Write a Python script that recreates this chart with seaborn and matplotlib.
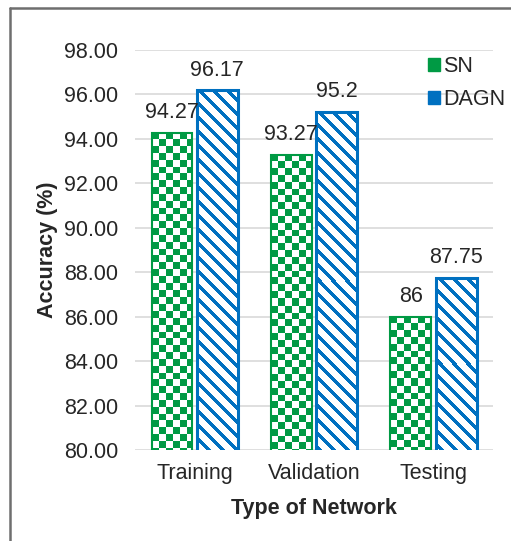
import numpy as np
import pandas as pd
import matplotlib
matplotlib.use("Agg")
import matplotlib.pyplot as plt
from matplotlib.patches import Patch
from matplotlib.lines import Line2D
import seaborn as sns

categories = ["Training", "Validation", "Testing"]
sn_values = [94.27, 93.27, 86]
dagn_values = [96.17, 95.2, 87.75]
series_names = ["SN", "DAGN"]
y_ticks = [80, 82, 84, 86, 88, 90, 92, 94, 96, 98]

GREEN = "#009A44"
BLUE = "#0070C0"
YMIN, YMAX = 80, 98
FS = 15.5

sns.set_theme(style="white")
plt.rcParams["font.family"] = ["Liberation Sans", "DejaVu Sans"]

df = pd.DataFrame({
    "Network": categories * 2,
    "Accuracy": sn_values + dagn_values,
    "Model": [series_names[0]] * 3 + [series_names[1]] * 3,
})

fig = plt.figure(figsize=(5.11, 5.41), dpi=100)
ax = fig.add_axes([0.264, 0.168, 0.701, 0.74])

sns.barplot(data=df, x="Network", y="Accuracy", hue="Model", order=categories,
            hue_order=series_names, palette=[GREEN, BLUE], width=0.76, gap=0.1,
            ax=ax, legend=False, saturation=1)

ax.set_ylim(YMIN, YMAX)
ax.set_xlim(-0.5, 2.5)
ax.set_yticks(y_ticks)
ax.set_yticklabels([f"{t:.2f}" for t in y_ticks], fontsize=FS)
ax.tick_params(axis="x", labelsize=FS, length=0, pad=9)
ax.tick_params(axis="y", length=0, pad=12)
ax.yaxis.grid(True, color="#D9D9D9", linewidth=1.2)
ax.set_axisbelow(True)
for s in ax.spines.values():
    s.set_visible(False)
ax.set_xlabel("Type of Network", fontsize=FS, fontweight="bold", labelpad=10)
ax.set_ylabel("Accuracy (%)", fontsize=FS, fontweight="bold", labelpad=4)

sn_bars = ax.containers[0]
dagn_bars = ax.containers[1]

fig.canvas.draw()


def pattern_fill(bar, color, kind):
    x0 = bar.get_x()
    w = bar.get_width()
    top = bar.get_y() + bar.get_height()
    p0 = ax.transData.transform((x0, YMIN))
    p1 = ax.transData.transform((x0 + w, top))
    wpx = int(round(p1[0] - p0[0]))
    hpx = int(round(p1[1] - p0[1]))
    rows, cols = np.indices((hpx, wpx))
    if kind == "checker":
        cell = wpx / 6.0
        mask = ((np.floor(rows / cell) + np.floor(cols / cell)) % 2) == 0
    else:
        mask = ((cols - rows) % 14) < 5
    img = np.ones((hpx, wpx, 3))
    img[mask] = np.array(matplotlib.colors.to_rgb(color))
    ax.imshow(img, extent=(x0, x0 + w, YMIN, top), origin="upper",
              aspect="auto", interpolation="nearest", zorder=1.05)
    bar.set_facecolor("none")
    bar.set_edgecolor(color)
    bar.set_zorder(1.1)


for bar in sn_bars:
    pattern_fill(bar, GREEN, "checker")
    bar.set_linewidth(1.5)
for bar in dagn_bars:
    pattern_fill(bar, BLUE, "stripes")
    bar.set_linewidth(2.2)

ax.set_ylim(YMIN, YMAX)
ax.set_xlim(-0.5, 2.5)

ax.bar_label(sn_bars, labels=[f"{v:g}" for v in sn_values], padding=7, fontsize=FS)
ax.bar_label(dagn_bars, labels=[f"{v:g}" for v in dagn_values], padding=7, fontsize=FS)

handles = [Patch(facecolor=GREEN, edgecolor=GREEN),
           Patch(facecolor=BLUE, edgecolor=BLUE)]
fig.legend(handles, series_names, loc="upper left", bbox_to_anchor=(0.80, 0.932),
           frameon=False, fontsize=FS, handlelength=0.55, handleheight=0.55,
           handletextpad=0.15, labelspacing=0.55)

fig.add_artist(Line2D([10 / 511, 10 / 511], [0, 1 - 8 / 541], transform=fig.transFigure,
                      color="#6E6E6E", linewidth=1.8))
fig.add_artist(Line2D([10 / 511, 1], [1 - 8 / 541, 1 - 8 / 541], transform=fig.transFigure,
                      color="#6E6E6E", linewidth=1.8))

fig.savefig("out.png", dpi=100)
